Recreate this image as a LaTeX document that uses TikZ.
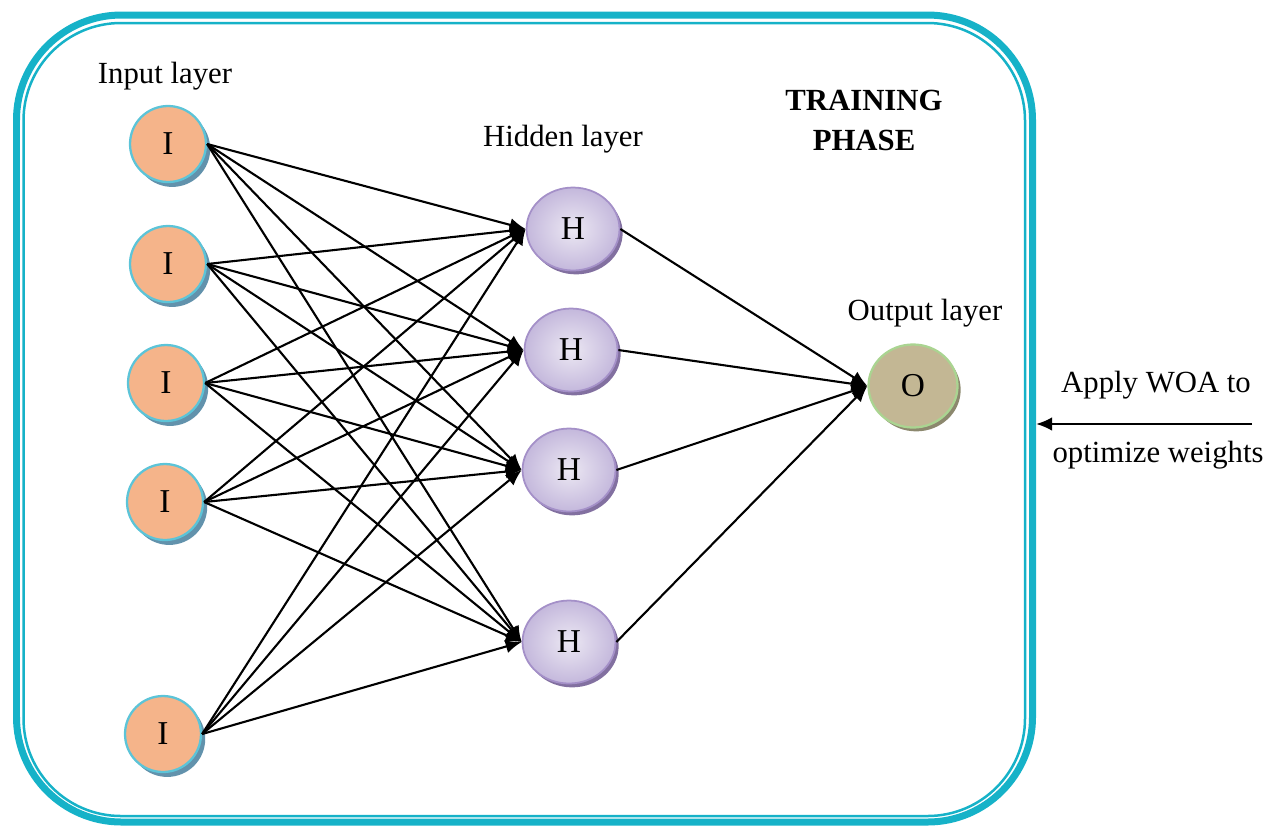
\documentclass[tikz,border=0pt]{standalone}
\usepackage{fontspec}
\setmainfont{Liberation Serif}
\usetikzlibrary{arrows.meta,shapes.geometric,shadows}

\definecolor{framecyan}{RGB}{22,178,200}
\definecolor{infill}{RGB}{245,180,138}
\definecolor{inborder}{RGB}{92,196,216}
\definecolor{inshadow}{RGB}{98,146,172}
\definecolor{hinner}{RGB}{236,232,243}
\definecolor{houter}{RGB}{196,184,220}
\definecolor{hborder}{RGB}{164,144,200}
\definecolor{hshadow}{RGB}{130,112,160}
\definecolor{ofill}{RGB}{195,183,148}
\definecolor{oborder}{RGB}{170,212,145}
\definecolor{oshadow}{RGB}{140,136,110}

\tikzset{
  inode/.style={circle, draw=inborder, line width=1.3pt, fill=infill,
    minimum size=1.52cm, inner sep=0pt, font=\fontsize{19}{22}\selectfont,
    drop shadow={shadow xshift=2.4pt, shadow yshift=-2.8pt, fill=inshadow, opacity=1}},
  hnode/.style={ellipse, draw=hborder, line width=1pt, inner color=hinner, outer color=houter,
    minimum width=1.86cm, minimum height=1.66cm, inner sep=0pt, font=\fontsize{19}{22}\selectfont,
    drop shadow={shadow xshift=1.8pt, shadow yshift=-2.2pt, fill=hshadow, opacity=1}},
  onode/.style={ellipse, draw=oborder, line width=1.3pt, fill=ofill,
    minimum width=1.78cm, minimum height=1.66cm, inner sep=0pt, font=\fontsize{19}{22}\selectfont,
    drop shadow={shadow xshift=1.8pt, shadow yshift=-2.2pt, fill=oshadow, opacity=1}},
  link/.style={-{Latex[length=0.32cm,width=0.27cm]}, line width=1.2pt}
}

\begin{document}
\begin{tikzpicture}[x=0.02cm, y=-0.02cm, font=\fontsize{17.5}{21}\selectfont]
    \useasboundingbox (0,0) rectangle (1270,826);

    % Frame
    \draw[framecyan, line width=0.14cm, rounded corners=2.1cm] (16.5,15) rectangle (1032.5,822);
    \draw[framecyan, line width=0.05cm, rounded corners=1.95cm] (23.5,23) rectangle (1025,816);

    % Nodes
    \node[inode] (I1) at (168,144) {I};
    \node[inode] (I2) at (168,264) {I};
    \node[inode] (I3) at (166,383) {I};
    \node[inode] (I4) at (165,502) {I};
    \node[inode] (I5) at (163,734) {I};

    \node[hnode] (H1) at (573,229) {H};
    \node[hnode] (H2) at (571,350) {H};
    \node[hnode] (H3) at (569,470) {H};
    \node[hnode] (H4) at (569,642) {H};

    \node[onode] (O) at (913,386) {O};

    % Labels
    \node (inlabel) at (165,76) {Input layer};
    \node (hlabel) at (563,139) {Hidden layer};
    \node (olabel) at (925,313) {Output layer};
    \node[font=\fontsize{17.5}{22.8}\selectfont\bfseries, align=center] (phase) at (864,120) {TRAINING\\PHASE};
    \node (apply) at (1156,385) {Apply WOA to};
    \node (optim) at (1158,455) {optimize weights};

    % Links
    \foreach \i in {1,...,5}
      \foreach \h in {1,...,4}
        \draw[link] (I\i.east) -- (H\h.west);
    \foreach \h in {1,...,4}
      \draw[link] (H\h.east) -- (O.west);

    % WOA arrow
    \coordinate (woa) at (1252,424);
    \coordinate (edge) at (1036,424);
    \draw[link] (woa) -- (edge);
\end{tikzpicture}
\end{document}
